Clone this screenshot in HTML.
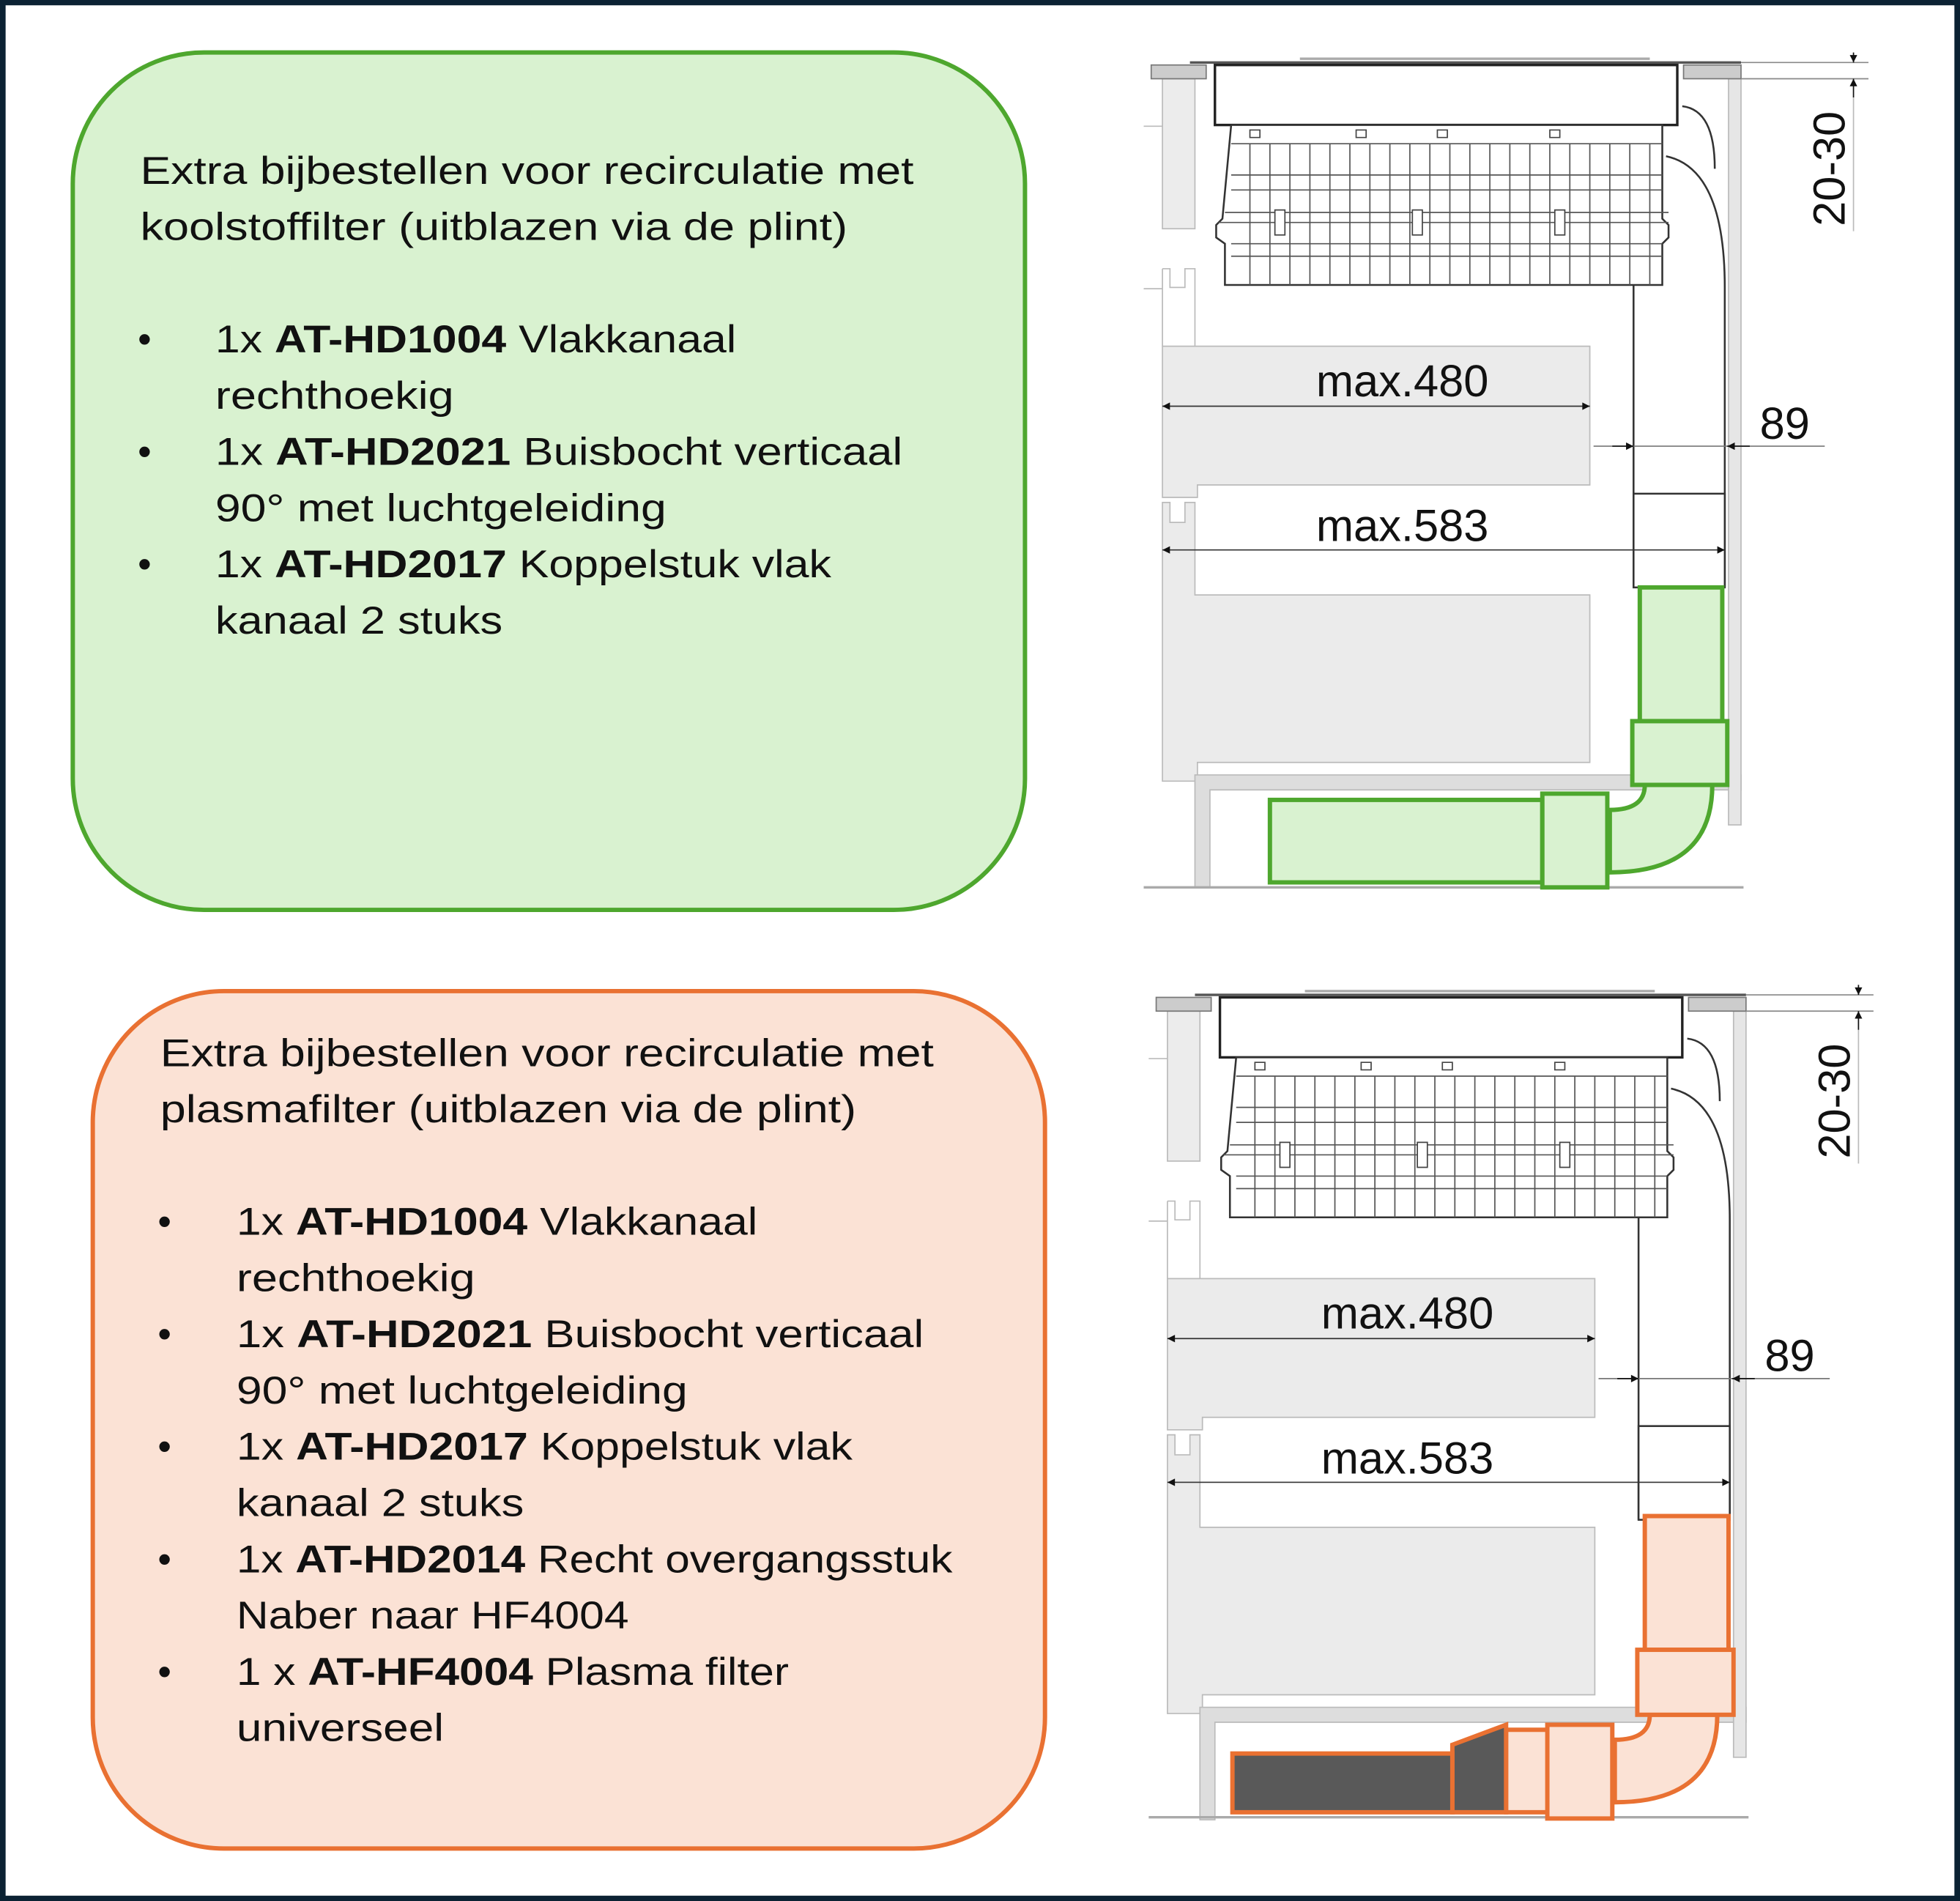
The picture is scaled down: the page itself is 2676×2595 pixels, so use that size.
<!DOCTYPE html>
<html><head><meta charset="utf-8"><style>
html,body{margin:0;padding:0;background:#fff}
svg{display:block}
text{font-family:"Liberation Sans",sans-serif}
</style></head><body>
<svg xmlns="http://www.w3.org/2000/svg" width="2676" height="2595" viewBox="0 0 1568 1521">
<rect x="0" y="0" width="1568" height="1521" fill="#fff"/>
<rect x="2" y="2" width="1564" height="1517" fill="none" stroke="#0b2233" stroke-width="4.5"/>

<!-- green box -->
<rect x="58" y="42" width="762" height="686" rx="105" ry="105" fill="#d9f2d0" stroke="#4ea72e" stroke-width="3.5"/>
<g font-size="31" fill="#111">
<text x="112" y="147" textLength="619" lengthAdjust="spacingAndGlyphs">Extra bijbestellen voor recirculatie met</text>
<text x="112" y="192" textLength="566" lengthAdjust="spacingAndGlyphs">koolstoffilter (uitblazen via de plint)</text>
<text x="110" y="282">•</text><text x="110" y="372">•</text><text x="110" y="462">•</text>
<text x="172" y="282" textLength="417" lengthAdjust="spacingAndGlyphs">1x <tspan font-weight="bold">AT-HD1004</tspan> Vlakkanaal</text>
<text x="172" y="327" textLength="191" lengthAdjust="spacingAndGlyphs">rechthoekig</text>
<text x="172" y="372" textLength="550" lengthAdjust="spacingAndGlyphs">1x <tspan font-weight="bold">AT-HD2021</tspan> Buisbocht verticaal</text>
<text x="172" y="417" textLength="361" lengthAdjust="spacingAndGlyphs">90° met luchtgeleiding</text>
<text x="172" y="462" textLength="493" lengthAdjust="spacingAndGlyphs">1x <tspan font-weight="bold">AT-HD2017</tspan> Koppelstuk vlak</text>
<text x="172" y="507" textLength="230" lengthAdjust="spacingAndGlyphs">kanaal 2 stuks</text>
</g>

<!-- orange box -->
<rect x="74" y="793" width="762" height="686" rx="105" ry="105" fill="#fbe2d5" stroke="#e97132" stroke-width="3.5"/>
<g font-size="31" fill="#111">
<text x="128" y="853" textLength="619" lengthAdjust="spacingAndGlyphs">Extra bijbestellen voor recirculatie met</text>
<text x="128" y="898" textLength="557" lengthAdjust="spacingAndGlyphs">plasmafilter (uitblazen via de plint)</text>
<text x="126" y="988">•</text><text x="126" y="1078">•</text><text x="126" y="1168">•</text><text x="126" y="1258">•</text><text x="126" y="1348">•</text>
<text x="189" y="988" textLength="417" lengthAdjust="spacingAndGlyphs">1x <tspan font-weight="bold">AT-HD1004</tspan> Vlakkanaal</text>
<text x="189" y="1033" textLength="191" lengthAdjust="spacingAndGlyphs">rechthoekig</text>
<text x="189" y="1078" textLength="550" lengthAdjust="spacingAndGlyphs">1x <tspan font-weight="bold">AT-HD2021</tspan> Buisbocht verticaal</text>
<text x="189" y="1123" textLength="361" lengthAdjust="spacingAndGlyphs">90° met luchtgeleiding</text>
<text x="189" y="1168" textLength="493" lengthAdjust="spacingAndGlyphs">1x <tspan font-weight="bold">AT-HD2017</tspan> Koppelstuk vlak</text>
<text x="189" y="1213" textLength="230" lengthAdjust="spacingAndGlyphs">kanaal 2 stuks</text>
<text x="189" y="1258" textLength="573" lengthAdjust="spacingAndGlyphs">1x <tspan font-weight="bold">AT-HD2014</tspan> Recht overgangsstuk</text>
<text x="189" y="1303" textLength="314" lengthAdjust="spacingAndGlyphs">Naber naar HF4004</text>
<text x="189" y="1348" textLength="442" lengthAdjust="spacingAndGlyphs">1 x <tspan font-weight="bold">AT-HF4004</tspan> Plasma filter</text>
<text x="189" y="1393" textLength="166" lengthAdjust="spacingAndGlyphs">universeel</text>
</g>

<defs>
<marker id="ar" viewBox="0 0 10 10" refX="10" refY="5" markerWidth="10" markerHeight="6" orient="auto-start-reverse" markerUnits="userSpaceOnUse"><path d="M0 0L10 5L0 10Z" fill="#111"/></marker>
</defs>

<!-- diagram 1 -->
<g id="dg1">
<!-- cabinet panels -->
<rect x="930" y="63" width="26" height="120" fill="#ececec" stroke="#bbb"/>
<path d="M930 277H1272V388H958V398H930Z" fill="#ebebeb" stroke="#bbb"/>
<path d="M930 215V277 M930 215H936V230H948V215H956V277" fill="none" stroke="#bbb"/>
<path d="M930 402H936V418H948V402H956V476H1272V610H958V625H930Z" fill="#ebebeb" stroke="#bbb"/>
<path d="M956 620H1393V632H968V710H956Z" fill="#ddd" stroke="#bbb"/>
<rect x="1383" y="63" width="10" height="597" fill="#e6e6e6" stroke="#bbb"/>
<line x1="915" y1="710" x2="1395" y2="710" stroke="#aaa" stroke-width="2"/>
<line x1="915" y1="101" x2="930" y2="101" stroke="#bbb"/>
<line x1="915" y1="231" x2="930" y2="231" stroke="#bbb"/>
<!-- countertop -->
<rect x="921" y="52" width="44" height="11" fill="#ccc" stroke="#777"/>
<rect x="1347" y="52" width="46" height="11" fill="#ccc" stroke="#777"/>
<path d="M952 50H1393" stroke="#555" stroke-width="2"/>
<path d="M1040 47H1320" stroke="#aaa" stroke-width="2"/>
<!-- hob body -->
<rect x="972" y="52" width="370" height="48" fill="#fff" stroke="#222" stroke-width="2"/>
<!-- basket -->
<path d="M985 100H1330V175L1335 180V190L1330 195V228H980V195L973 190V180L978 175Z" fill="#fff" stroke="#333" stroke-width="1.5"/>
<path d="M1000 115V228M1016 115V228M1032 115V228M1048 115V228M1064 115V228M1080 115V228M1096 115V228M1112 115V228M1128 115V228M1144 115V228M1160 115V228M1176 115V228M1192 115V228M1208 115V228M1224 115V228M1240 115V228M1256 115V228M1272 115V228M1288 115V228M1304 115V228M1320 115V228M985 115H1330M985 140H1330M985 152H1330M980 170H1335M975 178H1335M985 195H1330M985 205H1330" stroke="#555" stroke-width="1" fill="none"/>
<path d="M1000 104h8v6h-8zM1085 104h8v6h-8zM1150 104h8v6h-8zM1240 104h8v6h-8zM1020 168h8v20h-8zM1130 168h8v20h-8zM1244 168h8v20h-8z" fill="#fff" stroke="#444"/>
<!-- duct -->
<path d="M1346 85Q1372 88 1372 135" fill="none" stroke="#333" stroke-width="1.5"/>
<path d="M1333 125Q1380 135 1380 230V470" fill="none" stroke="#333" stroke-width="1.5"/>
<line x1="1307" y1="228" x2="1307" y2="470" stroke="#333" stroke-width="1.5"/>
<rect x="1307" y="395" width="73" height="75" fill="#fff" stroke="#333" stroke-width="1.5"/>
<!-- dims -->
<line x1="930" y1="325" x2="1272" y2="325" stroke="#333" marker-start="url(#ar)" marker-end="url(#ar)"/>
<text x="1122" y="317" font-size="36" text-anchor="middle" fill="#111">max.480</text>
<line x1="930" y1="440" x2="1380" y2="440" stroke="#333" marker-start="url(#ar)" marker-end="url(#ar)"/>
<text x="1122" y="433" font-size="36" text-anchor="middle" fill="#111">max.583</text>
<line x1="1275" y1="357" x2="1460" y2="357" stroke="#777"/>
<line x1="1290" y1="357" x2="1307" y2="357" stroke="#111" marker-end="url(#ar)"/>
<line x1="1400" y1="357" x2="1382" y2="357" stroke="#111" marker-end="url(#ar)"/>
<text x="1428" y="351" font-size="36" text-anchor="middle" fill="#111">89</text>
<path d="M1393 50H1495M1393 63H1495" stroke="#888"/>
<line x1="1483" y1="42" x2="1483" y2="50" stroke="#111" marker-end="url(#ar)"/>
<line x1="1483" y1="78" x2="1483" y2="63" stroke="#111" marker-end="url(#ar)"/>
<line x1="1483" y1="78" x2="1483" y2="185" stroke="#bbb"/>
<text transform="translate(1476,135) rotate(-90)" font-size="36" text-anchor="middle" fill="#111">20-30</text>
</g>
<!-- green parts -->
<g fill="#d9f2d0" stroke="#4ea72e" stroke-width="3.5">
<rect x="1312" y="470" width="66" height="107"/>
<path d="M1288 648Q1316 648 1316 628L1370 628Q1370 698 1288 698Z"/>
<rect x="1306" y="577" width="76" height="51"/>
<rect x="1016" y="640" width="218" height="66"/>
<rect x="1234" y="635" width="52" height="75"/>
</g>

<!-- diagram 2 -->
<g transform="translate(4,746)">
<rect x="930" y="63" width="26" height="120" fill="#ececec" stroke="#bbb"/>
<path d="M930 277H1272V388H958V398H930Z" fill="#ebebeb" stroke="#bbb"/>
<path d="M930 215V277 M930 215H936V230H948V215H956V277" fill="none" stroke="#bbb"/>
<path d="M930 402H936V418H948V402H956V476H1272V610H958V625H930Z" fill="#ebebeb" stroke="#bbb"/>
<path d="M956 620H1393V632H968V710H956Z" fill="#ddd" stroke="#bbb"/>
<rect x="1383" y="63" width="10" height="597" fill="#e6e6e6" stroke="#bbb"/>
<line x1="915" y1="708" x2="1395" y2="708" stroke="#aaa" stroke-width="2"/>
<line x1="915" y1="101" x2="930" y2="101" stroke="#bbb"/>
<line x1="915" y1="231" x2="930" y2="231" stroke="#bbb"/>
<rect x="921" y="52" width="44" height="11" fill="#ccc" stroke="#777"/>
<rect x="1347" y="52" width="46" height="11" fill="#ccc" stroke="#777"/>
<path d="M952 50H1393" stroke="#555" stroke-width="2"/>
<path d="M1040 47H1320" stroke="#aaa" stroke-width="2"/>
<rect x="972" y="52" width="370" height="48" fill="#fff" stroke="#222" stroke-width="2"/>
<path d="M985 100H1330V175L1335 180V190L1330 195V228H980V195L973 190V180L978 175Z" fill="#fff" stroke="#333" stroke-width="1.5"/>
<path d="M1000 115V228M1016 115V228M1032 115V228M1048 115V228M1064 115V228M1080 115V228M1096 115V228M1112 115V228M1128 115V228M1144 115V228M1160 115V228M1176 115V228M1192 115V228M1208 115V228M1224 115V228M1240 115V228M1256 115V228M1272 115V228M1288 115V228M1304 115V228M1320 115V228M985 115H1330M985 140H1330M985 152H1330M980 170H1335M975 178H1335M985 195H1330M985 205H1330" stroke="#555" stroke-width="1" fill="none"/>
<path d="M1000 104h8v6h-8zM1085 104h8v6h-8zM1150 104h8v6h-8zM1240 104h8v6h-8zM1020 168h8v20h-8zM1130 168h8v20h-8zM1244 168h8v20h-8z" fill="#fff" stroke="#444"/>
<path d="M1346 85Q1372 88 1372 135" fill="none" stroke="#333" stroke-width="1.5"/>
<path d="M1333 125Q1380 135 1380 230V470" fill="none" stroke="#333" stroke-width="1.5"/>
<line x1="1307" y1="228" x2="1307" y2="470" stroke="#333" stroke-width="1.5"/>
<rect x="1307" y="395" width="73" height="75" fill="#fff" stroke="#333" stroke-width="1.5"/>
<line x1="930" y1="325" x2="1272" y2="325" stroke="#333" marker-start="url(#ar)" marker-end="url(#ar)"/>
<text x="1122" y="317" font-size="36" text-anchor="middle" fill="#111">max.480</text>
<line x1="930" y1="440" x2="1380" y2="440" stroke="#333" marker-start="url(#ar)" marker-end="url(#ar)"/>
<text x="1122" y="433" font-size="36" text-anchor="middle" fill="#111">max.583</text>
<line x1="1275" y1="357" x2="1460" y2="357" stroke="#777"/>
<line x1="1290" y1="357" x2="1307" y2="357" stroke="#111" marker-end="url(#ar)"/>
<line x1="1400" y1="357" x2="1382" y2="357" stroke="#111" marker-end="url(#ar)"/>
<text x="1428" y="351" font-size="36" text-anchor="middle" fill="#111">89</text>
<path d="M1393 50H1495M1393 63H1495" stroke="#888"/>
<line x1="1483" y1="42" x2="1483" y2="50" stroke="#111" marker-end="url(#ar)"/>
<line x1="1483" y1="78" x2="1483" y2="63" stroke="#111" marker-end="url(#ar)"/>
<line x1="1483" y1="78" x2="1483" y2="185" stroke="#bbb"/>
<text transform="translate(1476,135) rotate(-90)" font-size="36" text-anchor="middle" fill="#111">20-30</text>
</g>
<!-- orange parts -->
<g fill="#fbe2d5" stroke="#e97132" stroke-width="3.5">
<rect x="1316" y="1213" width="67" height="107"/>
<path d="M1292 1392Q1320 1392 1320 1372L1374 1372Q1374 1442 1292 1442Z"/>
<rect x="1310" y="1320" width="77" height="52"/>
<rect x="1205" y="1384" width="36" height="66"/>
<path d="M1162 1396L1205 1380V1450H1162Z" fill="#595959"/>
<rect x="986" y="1403" width="176" height="47" fill="#595959"/>
<rect x="1238" y="1380" width="52" height="75"/>
</g>
</svg>
</body></html>
